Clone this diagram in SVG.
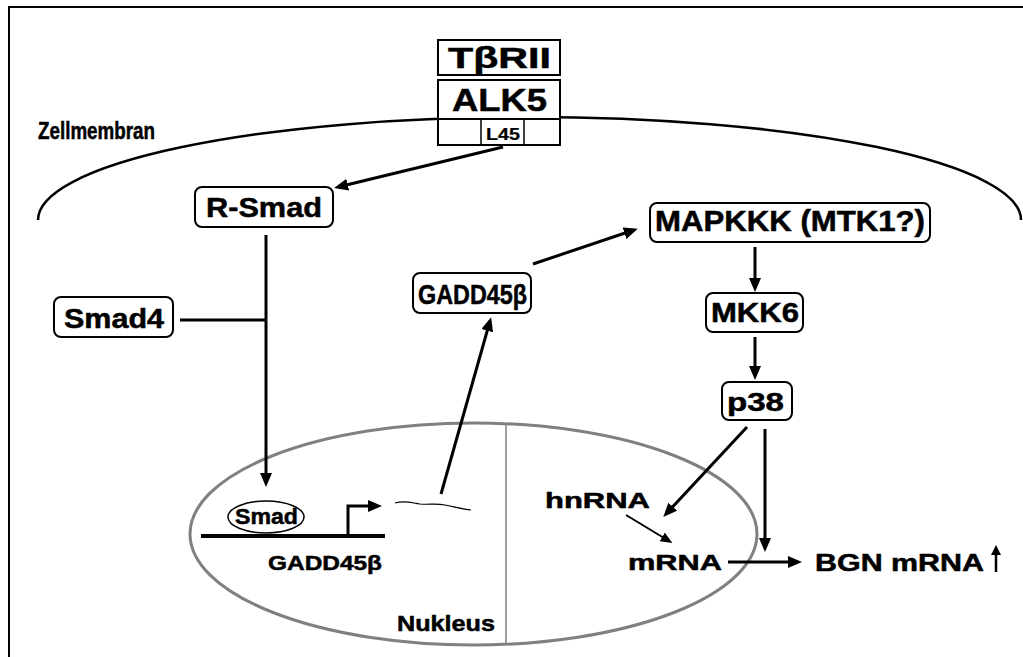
<svg xmlns="http://www.w3.org/2000/svg" width="1023" height="657" viewBox="0 0 1023 657">
<defs>
<style>
text{font-family:"Liberation Sans",Arial,sans-serif;font-weight:bold;fill:#000;stroke:#000;stroke-width:0.5}
.box{fill:#fff;stroke:#000;stroke-width:2}
.rbox{fill:#fff;stroke:#000;stroke-width:2}
.ar{stroke:#000;stroke-width:3;fill:none;marker-end:url(#ah)}
.ar2{stroke:#000;stroke-width:2;fill:none;marker-end:url(#ahs)}
.ln{stroke:#000;stroke-width:3;fill:none}
</style>
<marker id="ah" markerUnits="userSpaceOnUse" markerWidth="14" markerHeight="12" refX="10" refY="6" orient="auto"><path d="M0,0 L14,6 L0,12 z" fill="#000"/></marker>
<marker id="ahs" markerUnits="userSpaceOnUse" markerWidth="12" markerHeight="10" refX="8" refY="5" orient="auto"><path d="M0,0 L12,5 L0,10 z" fill="#000"/></marker>
</defs>
<rect width="1023" height="657" fill="#fff"/>
<path d="M9,657 V7 H1023" fill="none" stroke="#000" stroke-width="2"/>
<g id="membrane">
<path d="M38,220 A491,103 0 0 1 1021,220" fill="none" stroke="#000" stroke-width="2.5"/>
<text x="38" y="139" font-size="23" textLength="117" lengthAdjust="spacingAndGlyphs">Zellmembran</text>
</g>
<g id="nucleus">
<ellipse cx="473.5" cy="534" rx="283.5" ry="111" fill="none" stroke="#808080" stroke-width="3"/>
<line x1="506" y1="423" x2="506" y2="645" stroke="#808080" stroke-width="1.5"/>
<text x="397" y="631" font-size="22" textLength="98" lengthAdjust="spacingAndGlyphs">Nukleus</text>
</g>
<g id="tbrii">
<rect class="box" x="438" y="40" width="122" height="35"/>
<text x="448" y="68" font-size="30" textLength="103" lengthAdjust="spacingAndGlyphs">TβRII</text>
</g>
<g id="alk5">
<rect class="box" x="438" y="80" width="122" height="65"/>
<line x1="438" y1="119" x2="560" y2="119" stroke="#000" stroke-width="2"/>
<line x1="481" y1="119" x2="481" y2="145" stroke="#000" stroke-width="1.5"/>
<line x1="524" y1="119" x2="524" y2="145" stroke="#000" stroke-width="1.5"/>
<text x="452" y="111" font-size="31" textLength="95" lengthAdjust="spacingAndGlyphs">ALK5</text>
<text x="486" y="140" font-size="16" textLength="34" lengthAdjust="spacingAndGlyphs" style="stroke-width:0.2">L45</text>
</g>
<g id="rsmad">
<rect class="rbox" x="195" y="187" width="138" height="40" rx="7"/>
<text x="206" y="217" font-size="28" textLength="116" lengthAdjust="spacingAndGlyphs">R-Smad</text>
</g>
<g id="smad4">
<rect class="rbox" x="54" y="297" width="119" height="40" rx="7"/>
<text x="64" y="328" font-size="27" textLength="100" lengthAdjust="spacingAndGlyphs">Smad4</text>
</g>
<g id="gadd45b-protein">
<rect class="rbox" x="413" y="273" width="118" height="40" rx="7"/>
<text x="418" y="304" font-size="27" textLength="109" lengthAdjust="spacingAndGlyphs">GADD45β</text>
</g>
<g id="mapkkk">
<rect class="rbox" x="650" y="203" width="280" height="39" rx="7"/>
<text x="655" y="231" font-size="29" textLength="270" lengthAdjust="spacingAndGlyphs">MAPKKK (MTK1?)</text>
</g>
<g id="mkk6">
<rect class="rbox" x="706" y="293" width="97" height="39" rx="7"/>
<text x="711" y="322" font-size="27" textLength="88" lengthAdjust="spacingAndGlyphs">MKK6</text>
</g>
<g id="p38">
<rect class="rbox" x="722" y="382" width="70" height="38" rx="7"/>
<text x="727" y="411" font-size="26" textLength="57" lengthAdjust="spacingAndGlyphs">p38</text>
</g>
<g id="smad">
<ellipse cx="266" cy="517" rx="38" ry="16" fill="#fff" stroke="#000" stroke-width="1.5"/>
<text x="235" y="524" font-size="22" textLength="63" lengthAdjust="spacingAndGlyphs">Smad</text>
</g>
<g id="gadd45b-gene">
<line x1="201" y1="536" x2="385" y2="536" stroke="#000" stroke-width="4"/>
<text x="268" y="570" font-size="21" textLength="114" lengthAdjust="spacingAndGlyphs">GADD45β</text>
</g>
<g id="transcript">
<path d="M395,503 C405,500 412,503 420,504 C430,505 435,503 445,505 C455,507 462,509 471,510" fill="none" stroke="#000" stroke-width="1.2"/>
</g>
<g id="hnrna"><text x="545" y="508" font-size="22" textLength="105" lengthAdjust="spacingAndGlyphs">hnRNA</text></g>
<g id="mrna"><text x="628" y="570" font-size="22" textLength="94" lengthAdjust="spacingAndGlyphs">mRNA</text></g>
<g id="bgn">
<text x="815" y="571" font-size="23" textLength="169" lengthAdjust="spacingAndGlyphs">BGN mRNA</text>
<line x1="996" y1="572" x2="996" y2="552" stroke="#000" stroke-width="2.5"/>
<path d="M991,555 L996,545 L1001,555 z" fill="#000"/>
</g>
<g id="connectors">
<line class="ar" x1="503" y1="147" x2="338" y2="187"/>
<line class="ar" x1="266" y1="235" x2="266" y2="483"/>
<line class="ln" x1="180" y1="320" x2="266" y2="320"/>
<path class="ar" d="M348,536 V506 H378"/>
<line class="ar" x1="441" y1="494" x2="490" y2="321"/>
<line class="ar" x1="533" y1="264" x2="634" y2="230"/>
<line class="ar" x1="755" y1="247" x2="755" y2="288"/>
<line class="ar" x1="755" y1="337" x2="755" y2="376"/>
<line class="ar" x1="747" y1="427" x2="666" y2="514"/>
<line class="ar" x1="765" y1="429" x2="765" y2="548"/>
<line class="ar2" x1="626" y1="515" x2="669" y2="541"/>
<line class="ar" x1="728" y1="562" x2="798" y2="562"/>
</g>
</svg>
